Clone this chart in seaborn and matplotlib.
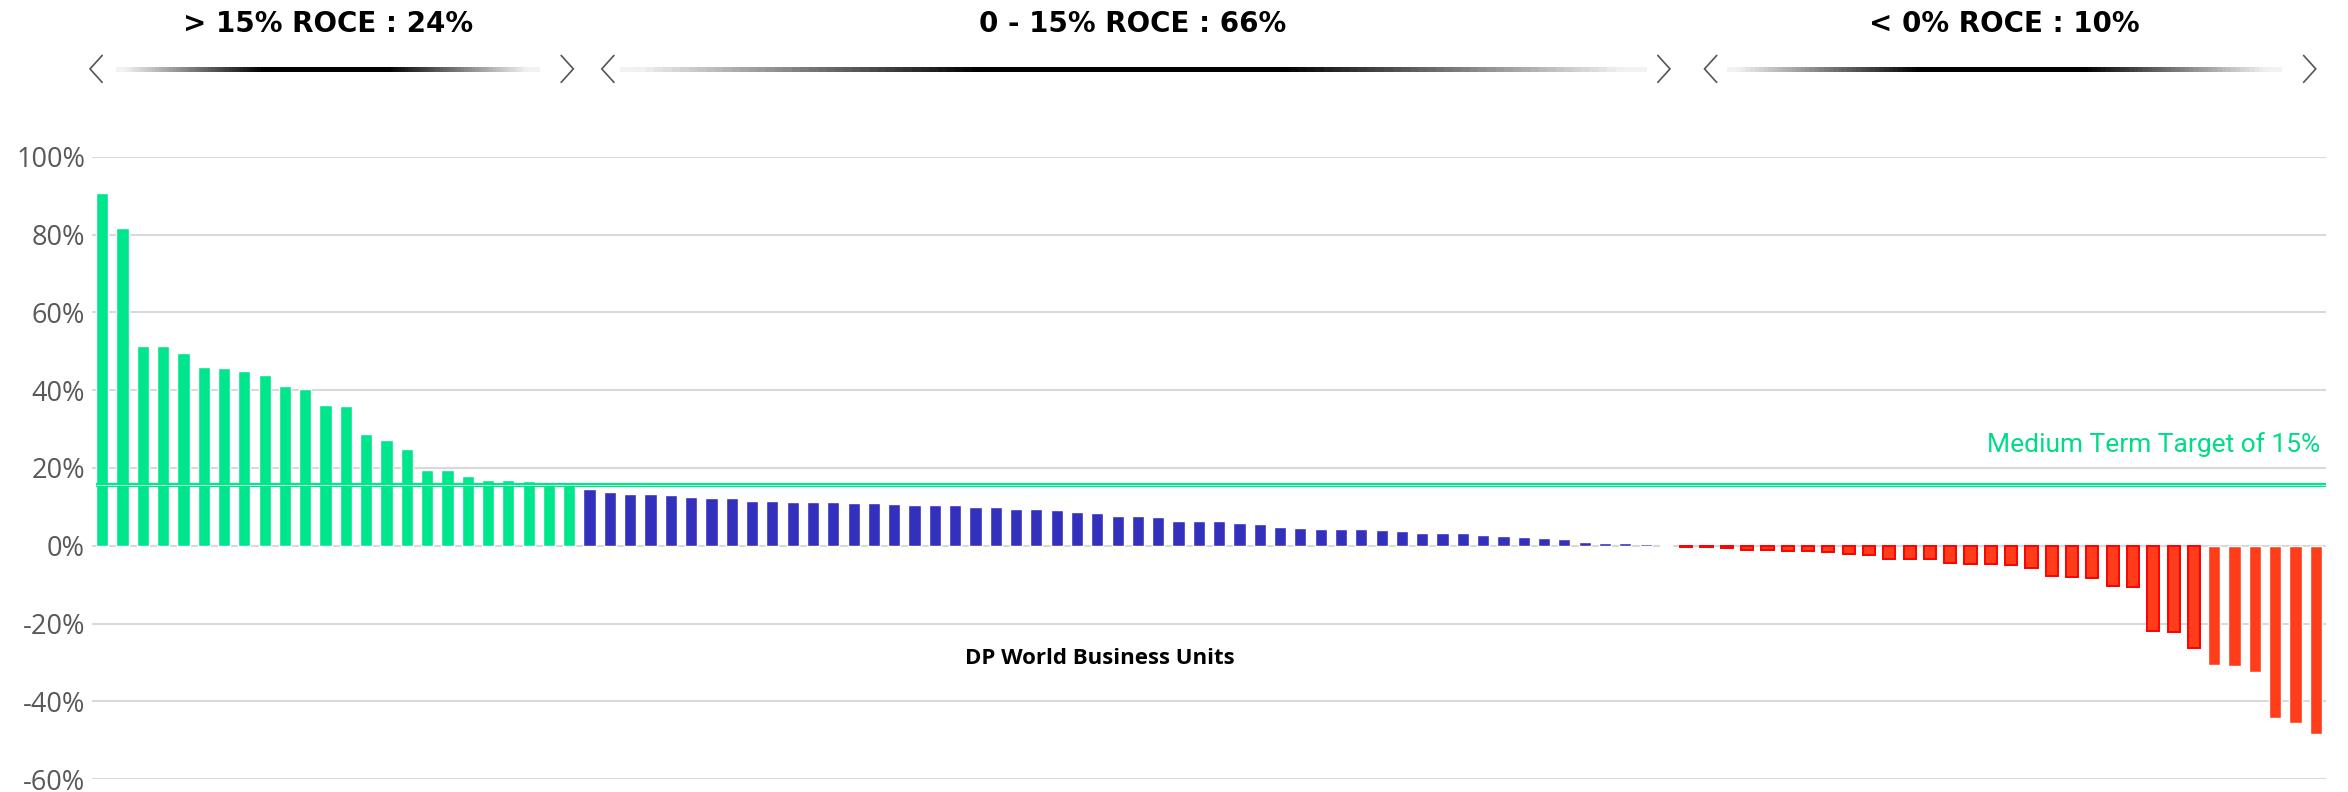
import numpy as np
import pandas as pd
import seaborn as sns
import matplotlib.pyplot as plt
import matplotlib.transforms as mtransforms
from matplotlib.collections import LineCollection


# ROCE per business unit (%)
green_roce = [90.8, 81.8, 51.5, 51.4, 49.5, 45.9, 45.7, 45.0, 44.0, 41.0, 40.4, 36.3,
              36.0, 28.8, 27.2, 25.0, 19.6, 19.4, 17.9, 17.0, 16.8, 16.6, 15.7, 15.5]
blue_roce = [14.7, 13.8, 13.4, 13.3, 13.1, 12.5, 12.4, 12.2, 11.4, 11.4, 11.2, 11.2,
             11.2, 11.1, 11.0, 10.7, 10.4, 10.4, 10.4, 10.0, 9.9, 9.4, 9.4, 9.3, 8.6,
             8.4, 7.7, 7.7, 7.3, 6.4, 6.3, 6.25, 5.9, 5.5, 4.9, 4.5, 4.4, 4.4, 4.3,
             4.1, 3.9, 3.25, 3.25, 3.2, 2.7, 2.4, 2.2, 2.1, 1.7, 1.0, 0.7, 0.6, 0.4, 0.3]
red_roce = [-0.3, -0.4, -0.6, -1.0, -1.1, -1.3, -1.4, -1.7, -2.0, -2.3, -3.4, -3.4,
            -3.4, -4.4, -4.6, -4.8, -5.0, -5.6, -7.9, -8.0, -8.2, -10.3, -10.5, -21.9,
            -22.1, -26.4, -30.8, -30.9, -32.5, -44.2, -45.7, -48.5]

band_labels = ['> 15% ROCE : 24%', '0 - 15% ROCE : 66%', '< 0% ROCE : 10%']
y_ticks = [100, 80, 60, 40, 20, 0, -20, -40, -60]
target = 15.7
target_label = 'Medium Term Target of 15%'
x_title = 'DP World Business Units'

# header arrows: left tip, line start, line end, right tip (in bar units)
arrow_spans = [(-0.6, 0.8, 21.4, 23.2),
               (24.6, 25.6, 75.9, 77.2),
               (78.9, 80.1, 107.2, 109.0)]

GREEN = '#00E68C'
BLUE = '#3430BE'
RED = '#FF3D1A'

sns.set_theme(style='white')
plt.rcParams['font.family'] = ['Open Sans', 'DejaVu Sans']

values = green_roce + blue_roce + red_roce
bands = ['green'] * len(green_roce) + ['blue'] * len(blue_roce) + ['red'] * len(red_roce)
df = pd.DataFrame({'unit': range(len(values)), 'roce': values, 'band': bands})

fig = plt.figure(figsize=(23.48, 7.92), dpi=100)
ax = fig.add_axes([0.0392, 0.0164, 0.9514, 0.7854])

sns.barplot(data=df, x='unit', y='roce', hue='band',
            palette={'green': GREEN, 'blue': BLUE, 'red': RED},
            dodge=False, width=0.6, saturation=1, legend=False, ax=ax, zorder=3)

# the smaller losses have a darker red outline
for p in ax.patches:
    h = p.get_height()
    if -30 < h < 0:
        p.set_edgecolor('#FF0000')
        p.set_linewidth(1.4)

n = len(values)
ax.set_xlim(-0.5, n - 0.5)
ax.set_ylim(-60, 100)
ax.set_yticks(y_ticks)
ax.set_yticklabels([f'{t}%' for t in y_ticks], color='#595959', fontsize=19.5)
ax.tick_params(axis='y', length=0, pad=5)
ax.set_xticks([])
ax.set_xlabel('')
ax.set_ylabel('')
ax.yaxis.grid(True, color='#D9D9D9', lw=1.5)
ax.set_axisbelow(True)
sns.despine(ax=ax, left=True, bottom=True)

# target line
ax.hlines(target, -0.3, n - 0.5, color=GREEN, lw=3, zorder=4)
ax.hlines(target, -0.3, n - 0.5, color='#C2FAE0', lw=0.7, zorder=5)
tr_ax_data = mtransforms.blended_transform_factory(ax.transAxes, ax.transData)
ax.text(0.9973, 24.1, target_label, transform=tr_ax_data, ha='right', va='baseline',
        color='#00DC86', fontsize=19, family='Roboto')

ax.text(0.451, -29, x_title, transform=tr_ax_data, ha='center', va='center',
        fontsize=16, fontweight='bold', color='black')

# band headers with gradient arrows
tr_fig = mtransforms.blended_transform_factory(ax.transData, fig.transFigure)
y_line = 0.913
for label, (lt, x0, x1, rt) in zip(band_labels, arrow_spans):
    fig.text((x0 + x1) / 2, 0.970, label, transform=tr_fig, ha='center', va='center',
             fontsize=20, fontweight='bold', color='black', family='DejaVu Sans')

    t = np.linspace(0, 1, 120)
    xs = x0 + (x1 - x0) * t
    segs = [[(xs[i], y_line), (xs[i + 1], y_line)] for i in range(len(xs) - 1)]
    tm = (t[:-1] + t[1:]) / 2
    dark = np.clip(1 - (np.abs(tm - 0.5) - 0.15) / 0.35, 0.05, 1)
    cols = [(1 - d, 1 - d, 1 - d) for d in dark]
    lc = LineCollection(segs, colors=cols, linewidths=3.4, transform=tr_fig,
                        clip_on=False, capstyle='projecting', antialiased=False)
    ax.add_collection(lc)

    ax.plot([lt + 0.6, lt, lt + 0.6], [0.930, y_line, 0.896], color='#555555', lw=1.2,
            transform=tr_fig, clip_on=False, solid_joinstyle='miter')
    ax.plot([rt - 0.6, rt, rt - 0.6], [0.930, y_line, 0.896], color='#555555', lw=1.2,
            transform=tr_fig, clip_on=False, solid_joinstyle='miter')

fig.savefig('out.png', dpi=100)
